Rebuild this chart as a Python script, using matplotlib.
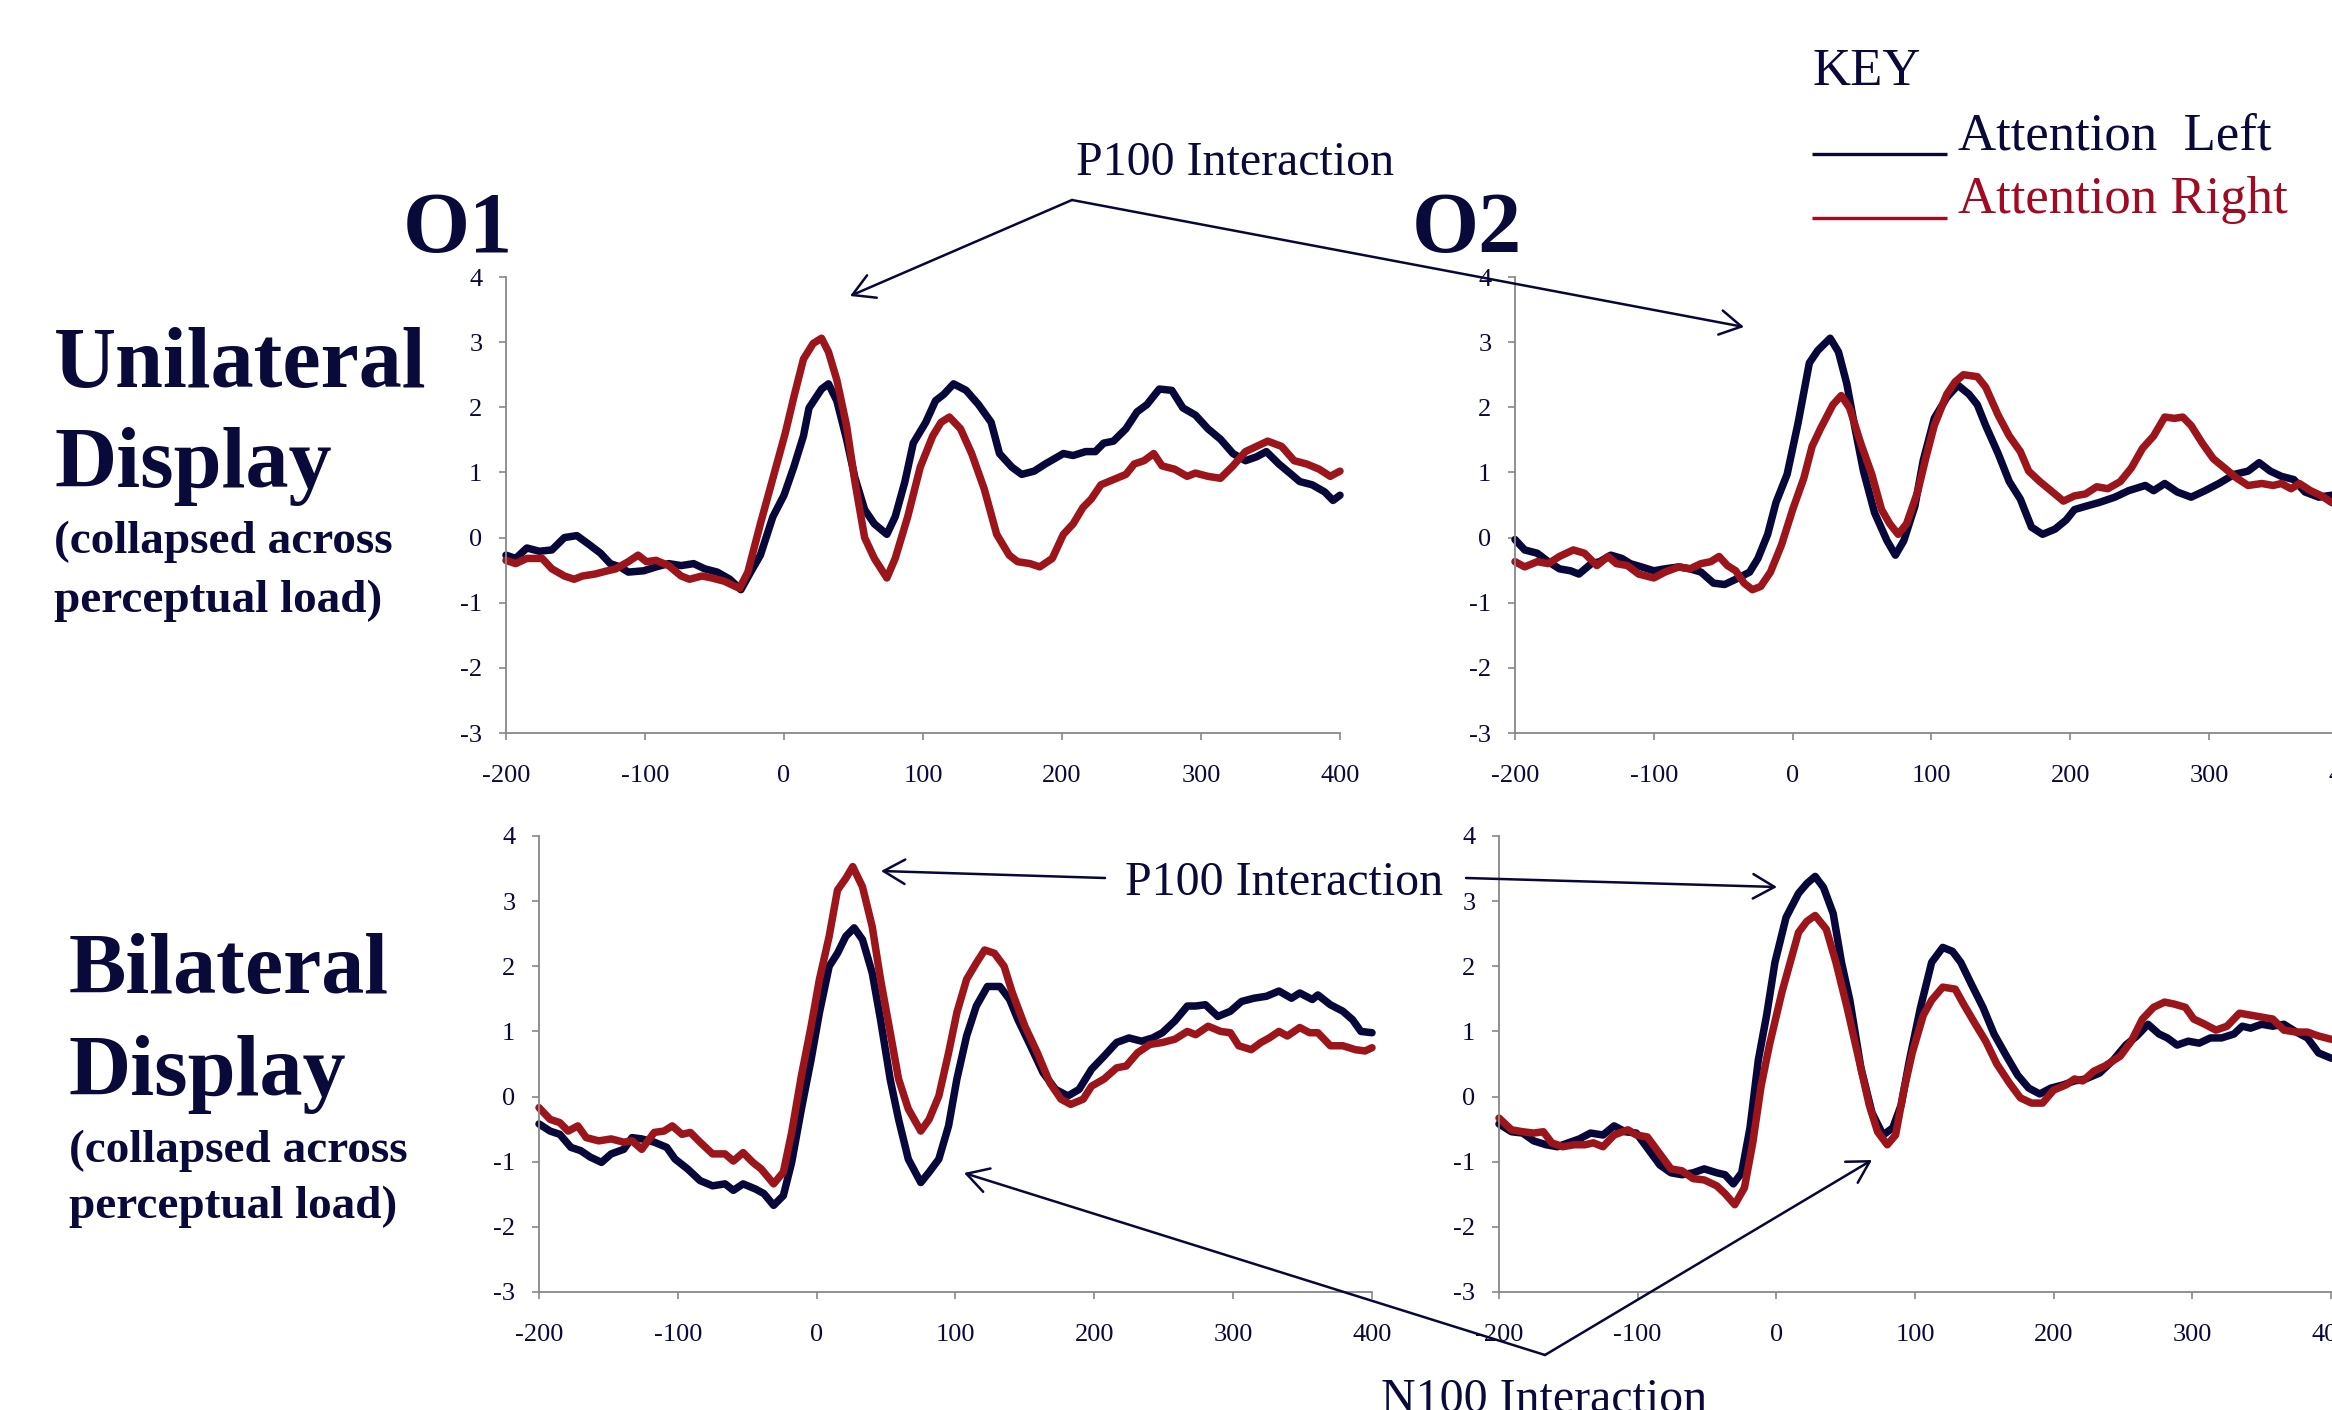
import matplotlib
matplotlib.use("Agg")
import matplotlib.pyplot as plt

W, H = 2332, 1410
NAVY = '#07073a'
RED = '#9c151b'
TXT = '#0a0a3a'
RED_TXT = '#a00a22'
GRAY = '#888888'

plt.rcParams['font.family'] = ['Liberation Serif', 'DejaVu Serif']
plt.rcParams['axes.unicode_minus'] = False

# ---- O1 unilateral (top left) ----
tl_left_t = [-200, -193, -185, -176, -167, -158, -149, -140, -132, -125, -118, -112, -101, -92, -83, -74,
             -65, -57, -48, -39, -31, -24, -17, -8, 0, 7, 14, 18, 27, 32, 38, 45, 51, 58, 65, 74, 80, 87,
             93, 102, 109, 115, 122, 131, 140, 149, 155, 164, 171, 180, 188, 201, 208, 217, 224, 230, 237,
             246, 254, 261, 270, 279, 287, 296, 305, 314, 323, 332, 340, 347, 356, 365, 371, 380, 389, 395, 400]
tl_left_v = [-0.27, -0.32, -0.16, -0.21, -0.19, 0.0, 0.03, -0.11, -0.24, -0.40, -0.45, -0.53, -0.51, -0.45,
             -0.40, -0.43, -0.40, -0.48, -0.53, -0.64, -0.80, -0.53, -0.27, 0.32, 0.65, 1.08, 1.56, 1.99,
             2.28, 2.36, 2.10, 1.51, 0.92, 0.43, 0.21, 0.05, 0.32, 0.86, 1.45, 1.77, 2.10, 2.20, 2.36, 2.26,
             2.04, 1.77, 1.29, 1.08, 0.97, 1.02, 1.13, 1.29, 1.26, 1.32, 1.32, 1.45, 1.48, 1.67, 1.93, 2.04,
             2.28, 2.26, 1.99, 1.88, 1.67, 1.51, 1.29, 1.18, 1.24, 1.32, 1.13, 0.97, 0.86, 0.81, 0.70, 0.57, 0.65]
tl_right_t = [-200, -193, -185, -174, -167, -158, -151, -145, -136, -127, -121, -112, -105, -99, -92, -83,
              -74, -68, -59, -52, -43, -32, -26, -17, -8, 1, 7, 14, 21, 27, 32, 38, 45, 51, 58, 65, 74, 80,
              89, 98, 107, 113, 119, 127, 135, 144, 153, 162, 168, 177, 184, 193, 201, 208, 215, 221, 228,
              237, 246, 252, 259, 266, 272, 281, 290, 296, 305, 314, 323, 332, 340, 348, 358, 367, 376, 385,
              393, 400]
tl_right_v = [-0.35, -0.40, -0.32, -0.32, -0.48, -0.59, -0.64, -0.59, -0.56, -0.51, -0.48, -0.37, -0.27,
              -0.37, -0.35, -0.43, -0.59, -0.64, -0.59, -0.62, -0.67, -0.78, -0.53, 0.21, 0.91, 1.61, 2.15,
              2.74, 2.98, 3.06, 2.85, 2.42, 1.72, 0.86, 0.0, -0.32, -0.62, -0.32, 0.32, 1.08, 1.56, 1.77,
              1.85, 1.67, 1.29, 0.75, 0.05, -0.27, -0.37, -0.40, -0.45, -0.32, 0.05, 0.21, 0.46, 0.59, 0.81,
              0.89, 0.97, 1.13, 1.18, 1.29, 1.10, 1.05, 0.94, 0.99, 0.94, 0.91, 1.10, 1.32, 1.40, 1.48, 1.40,
              1.18, 1.13, 1.05, 0.94, 1.02]

# ---- O2 unilateral (top right) ----
tr_left_t = [-200, -193, -184, -176, -168, -160, -154, -145, -139, -131, -123, -117, -109, -100, -92, -82,
             -74, -66, -57, -49, -41, -31, -25, -18, -12, -4, 4, 12, 18, 27, 33, 39, 45, 51, 59, 68, 74, 80,
             88, 94, 102, 111, 119, 127, 133, 139, 148, 156, 164, 172, 180, 189, 197, 203, 211, 221, 232, 242,
             254, 260, 268, 277, 287, 297, 307, 318, 328, 336, 344, 352, 361, 369, 379, 388, 400]
tr_left_v = [-0.03, -0.19, -0.24, -0.37, -0.48, -0.51, -0.56, -0.40, -0.37, -0.27, -0.32, -0.40, -0.45,
             -0.51, -0.48, -0.45, -0.48, -0.53, -0.70, -0.72, -0.64, -0.53, -0.32, 0.05, 0.54, 0.97, 1.77,
             2.68, 2.87, 3.06, 2.85, 2.36, 1.67, 1.02, 0.38, -0.05, -0.27, -0.05, 0.48, 1.18, 1.83, 2.15,
             2.34, 2.20, 2.04, 1.72, 1.29, 0.86, 0.59, 0.16, 0.05, 0.13, 0.27, 0.43, 0.48, 0.54, 0.62, 0.72,
             0.80, 0.72, 0.83, 0.70, 0.62, 0.72, 0.83, 0.97, 1.02, 1.15, 1.02, 0.94, 0.89, 0.70, 0.62, 0.65, 0.55]
tr_right_t = [-200, -193, -184, -176, -168, -158, -150, -141, -133, -127, -119, -111, -100, -92, -82, -74,
              -66, -59, -53, -47, -41, -35, -29, -23, -16, -8, 0, 8, 14, 20, 29, 35, 41, 49, 57, 64, 70, 76,
              82, 90, 96, 102, 111, 117, 123, 133, 139, 148, 156, 164, 170, 178, 186, 195, 203, 211, 219, 227,
              236, 244, 252, 260, 268, 275, 281, 287, 295, 303, 311, 320, 328, 338, 346, 352, 359, 365, 373,
              381, 388, 400]
tr_right_v = [-0.37, -0.45, -0.37, -0.40, -0.29, -0.19, -0.24, -0.43, -0.29, -0.40, -0.43, -0.56, -0.62,
              -0.53, -0.45, -0.48, -0.40, -0.37, -0.29, -0.43, -0.51, -0.70, -0.80, -0.75, -0.53, -0.11, 0.43,
              0.91, 1.40, 1.67, 2.04, 2.18, 1.99, 1.45, 0.97, 0.43, 0.21, 0.05, 0.21, 0.70, 1.23, 1.72, 2.20,
              2.39, 2.50, 2.47, 2.31, 1.88, 1.56, 1.32, 1.02, 0.86, 0.72, 0.56, 0.64, 0.67, 0.78, 0.75, 0.86,
              1.07, 1.37, 1.56, 1.85, 1.83, 1.85, 1.72, 1.45, 1.21, 1.07, 0.91, 0.80, 0.83, 0.80, 0.83, 0.75,
              0.83, 0.72, 0.64, 0.54, 0.45]

# ---- O1 bilateral (bottom left) ----
bl_left_t = [-200, -192, -185, -177, -170, -163, -155, -148, -139, -133, -126, -117, -108, -102, -93, -84,
             -75, -66, -60, -53, -44, -38, -31, -24, -18, -11, -4, 2, 9, 15, 21, 27, 33, 40, 46, 53, 59, 66,
             75, 81, 88, 95, 101, 108, 115, 123, 132, 139, 145, 154, 163, 172, 181, 189, 198, 207, 216, 225,
             234, 242, 249, 258, 267, 273, 280, 289, 298, 306, 315, 324, 333, 342, 348, 357, 361, 370, 379,
             386, 392, 400]
bl_left_v = [-0.42, -0.53, -0.58, -0.78, -0.83, -0.93, -1.01, -0.88, -0.81, -0.63, -0.65, -0.70, -0.78,
             -0.96, -1.11, -1.29, -1.37, -1.34, -1.44, -1.34, -1.42, -1.49, -1.67, -1.52, -1.01, -0.19, 0.57,
             1.29, 2.00, 2.20, 2.46, 2.59, 2.41, 1.90, 1.18, 0.26, -0.35, -0.96, -1.32, -1.16, -0.96, -0.45,
             0.27, 0.93, 1.39, 1.69, 1.69, 1.49, 1.18, 0.78, 0.37, 0.11, 0.01, 0.11, 0.42, 0.62, 0.83, 0.90,
             0.85, 0.90, 0.98, 1.16, 1.39, 1.39, 1.41, 1.23, 1.31, 1.46, 1.51, 1.54, 1.62, 1.51, 1.59, 1.49,
             1.56, 1.41, 1.31, 1.18, 1.00, 0.98]
bl_right_t = [-200, -192, -185, -179, -172, -166, -157, -148, -139, -133, -126, -117, -110, -104, -97, -91,
              -84, -75, -66, -60, -53, -46, -40, -31, -24, -18, -11, -4, 2, 9, 15, 21, 26, 33, 40, 46, 53, 59,
              66, 75, 81, 88, 95, 101, 108, 115, 121, 128, 135, 141, 150, 159, 168, 176, 183, 192, 198, 207,
              216, 223, 231, 240, 249, 258, 267, 273, 282, 291, 298, 304, 313, 320, 326, 333, 339, 348, 355,
              361, 370, 379, 388, 395, 400]
bl_right_v = [-0.17, -0.35, -0.40, -0.53, -0.45, -0.63, -0.68, -0.65, -0.70, -0.68, -0.81, -0.55, -0.53,
              -0.45, -0.58, -0.55, -0.70, -0.88, -0.88, -0.99, -0.86, -1.01, -1.11, -1.34, -1.16, -0.55, 0.32,
              1.08, 1.80, 2.46, 3.17, 3.35, 3.53, 3.22, 2.61, 1.80, 0.98, 0.27, -0.19, -0.53, -0.35, 0.01,
              0.67, 1.29, 1.80, 2.05, 2.25, 2.20, 2.00, 1.59, 1.08, 0.67, 0.21, -0.04, -0.12, -0.04, 0.16, 0.27,
              0.44, 0.47, 0.67, 0.80, 0.83, 0.88, 1.00, 0.95, 1.08, 1.00, 0.98, 0.78, 0.72, 0.83, 0.90, 1.00,
              0.93, 1.06, 0.98, 0.98, 0.78, 0.78, 0.72, 0.70, 0.75]

# ---- O2 bilateral (bottom right) ----
br_left_t = [-200, -191, -183, -175, -166, -158, -150, -142, -134, -125, -117, -109, -101, -93, -84, -76,
             -68, -60, -52, -43, -37, -31, -25, -19, -13, -7, -1, 7, 16, 22, 28, 34, 41, 47, 53, 61, 69, 77,
             84, 90, 96, 104, 112, 120, 127, 133, 141, 149, 157, 166, 174, 182, 190, 198, 207, 215, 223, 233,
             243, 252, 260, 268, 276, 282, 289, 297, 305, 313, 321, 330, 336, 342, 350, 358, 366, 375, 383,
             391, 400]
br_left_v = [-0.42, -0.54, -0.56, -0.68, -0.74, -0.77, -0.71, -0.65, -0.56, -0.59, -0.45, -0.54, -0.56,
             -0.79, -1.05, -1.17, -1.20, -1.17, -1.11, -1.17, -1.20, -1.34, -1.17, -0.48, 0.56, 1.25, 2.06,
             2.75, 3.12, 3.27, 3.38, 3.21, 2.81, 2.06, 1.48, 0.44, -0.25, -0.59, -0.48, -0.13, 0.56, 1.37,
             2.06, 2.29, 2.23, 2.06, 1.71, 1.37, 0.96, 0.62, 0.33, 0.13, 0.04, 0.13, 0.18, 0.24, 0.27, 0.36,
             0.56, 0.79, 0.93, 1.11, 0.96, 0.90, 0.79, 0.85, 0.82, 0.90, 0.90, 0.96, 1.08, 1.05, 1.11, 1.08,
             1.11, 0.99, 0.90, 0.67, 0.59]
br_right_t = [-200, -191, -183, -175, -168, -162, -154, -146, -138, -132, -125, -117, -107, -101, -93, -84,
              -76, -68, -60, -52, -43, -37, -30, -23, -17, -11, -5, 4, 10, 16, 22, 28, 36, 43, 51, 59, 67, 73,
              80, 86, 92, 98, 106, 112, 120, 129, 135, 143, 151, 159, 168, 176, 184, 192, 200, 209, 215, 221,
              229, 237, 248, 256, 264, 272, 280, 287, 295, 301, 309, 317, 325, 334, 342, 350, 358, 366, 375,
              383, 391, 400]
br_right_v = [-0.33, -0.51, -0.54, -0.56, -0.54, -0.71, -0.77, -0.74, -0.74, -0.71, -0.77, -0.59, -0.51,
              -0.59, -0.62, -0.88, -1.11, -1.14, -1.26, -1.28, -1.37, -1.49, -1.66, -1.40, -0.71, 0.16, 0.79,
              1.60, 2.06, 2.52, 2.69, 2.78, 2.57, 2.06, 1.37, 0.62, -0.13, -0.54, -0.74, -0.59, 0.10, 0.67,
              1.25, 1.48, 1.68, 1.65, 1.42, 1.13, 0.85, 0.50, 0.21, -0.02, -0.10, -0.10, 0.10, 0.18, 0.27,
              0.24, 0.39, 0.47, 0.62, 0.85, 1.19, 1.37, 1.45, 1.42, 1.37, 1.19, 1.11, 1.02, 1.08, 1.28, 1.25,
              1.22, 1.19, 1.02, 0.99, 0.99, 0.93, 0.88]

x_ticks = [-200, -100, 0, 100, 200, 300, 400]
y_ticks = [-3, -2, -1, 0, 1, 2, 3, 4]


def box(left, top, right, bottom):
    # pixel box -> figure fraction rect
    return [left / W, 1 - bottom / H, (right - left) / W, (bottom - top) / H]


panels = [
    (box(506, 277, 1340, 733), tl_left_t, tl_left_v, tl_right_t, tl_right_v),
    (box(1515, 277, 2348, 733), tr_left_t, tr_left_v, tr_right_t, tr_right_v),
    (box(539, 836, 1372, 1292), bl_left_t, bl_left_v, bl_right_t, bl_right_v),
    (box(1499, 836, 2331, 1292), br_left_t, br_left_v, br_right_t, br_right_v),
]

fig = plt.figure(figsize=(W / 100, H / 100), dpi=100)
fig.patch.set_facecolor('white')

for rect, lt, lv, rt, rv in panels:
    ax = fig.add_axes(rect)
    ax.plot(lt, lv, color=NAVY, lw=5.4, solid_joinstyle='round', solid_capstyle='round', clip_on=False)
    ax.plot(rt, rv, color=RED, lw=5.4, solid_joinstyle='round', solid_capstyle='round', clip_on=False)
    ax.set_xlim(-200, 400)
    ax.set_ylim(-3, 4)
    ax.set_xticks(x_ticks)
    ax.set_yticks(y_ticks)
    for s in ['top', 'right']:
        ax.spines[s].set_visible(False)
    for s in ['left', 'bottom']:
        ax.spines[s].set_color(GRAY)
        ax.spines[s].set_linewidth(1.3)
    ax.tick_params(direction='out', length=5, width=1.2, color=GRAY, labelcolor=TXT, labelsize=19)
    ax.tick_params(axis='x', pad=18)
    ax.tick_params(axis='y', pad=12)
    ax.patch.set_alpha(0)

# overlay in pixel coordinates for labels and arrows
ov = fig.add_axes([0, 0, 1, 1])
ov.set_xlim(0, W)
ov.set_ylim(H, 0)
ov.axis('off')
ov.patch.set_alpha(0)

big = dict(fontsize=62, fontweight='bold', color=TXT, va='baseline', ha='left')
mid = dict(fontsize=34, fontweight='bold', color=TXT, va='baseline', ha='left')
reg = dict(fontsize=34.5, color=TXT, va='baseline', ha='left')

ov.text(403, 252, 'O1', **big)
ov.text(1412, 252, 'O2', **big)
ov.text(54, 387, 'Unilateral', **big)
ov.text(54, 487, 'Display', **big)
ov.text(54, 553, '(collapsed across', **mid)
ov.text(54, 612, 'perceptual load)', **mid)
ov.text(69, 993, 'Bilateral', **big)
ov.text(69, 1095, 'Display', **big)
ov.text(69, 1162, '(collapsed across', **mid)
ov.text(69, 1218, 'perceptual load)', **mid)

ov.text(1076, 175, 'P100 Interaction', **reg)
ov.text(1125, 895, 'P100 Interaction', **reg)
ov.text(1381, 1412, 'N100 Interaction', **reg)

# key
ov.text(1813, 85, 'KEY', fontsize=38, color=TXT, va='baseline', ha='left')
ov.text(1958, 149, 'Attention  Left', fontsize=38, color=TXT, va='baseline', ha='left')
ov.text(1958, 213, 'Attention Right', fontsize=38, color=RED_TXT, va='baseline', ha='left')
ov.plot([1812, 1947], [154, 154], color=NAVY, lw=2.4, solid_capstyle='butt')
ov.plot([1812, 1947], [218, 218], color=RED_TXT, lw=2.4, solid_capstyle='butt')

arrow = dict(arrowstyle='->,head_length=0.7,head_width=0.4', color=NAVY, lw=1.8,
             shrinkA=0, shrinkB=0, mutation_scale=22)
for start, end in [((1072, 200), (850, 296)), ((1072, 200), (1744, 327)),
                   ((1105, 878), (881, 871)), ((1466, 878), (1777, 887)),
                   ((1545, 1355), (964, 1173)), ((1545, 1355), (1872, 1160))]:
    ov.annotate('', xy=end, xytext=start, arrowprops=arrow)

fig.savefig('out.png', dpi=100)
